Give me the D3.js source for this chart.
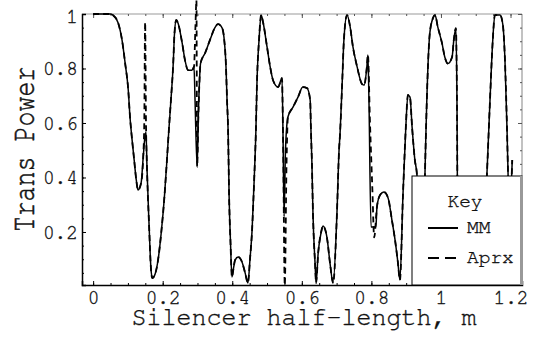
<!DOCTYPE html>
<html>
<head>
<meta charset="utf-8">
<script src="https://cdn.jsdelivr.net/npm/d3@7"></script>
<style>
  body { margin: 0; background: #fff; }
</style>
</head>
<body>
<div id="chart"></div>
<script>
// MM (mode matching) transmitted power vs silencer half-length
var mmX = [0.000, 0.049, 0.057, 0.072, 0.083, 0.092, 0.101, 0.106, 0.112, 0.118, 0.124, 0.129, 0.138, 0.144, 0.149, 0.152,
  0.155, 0.161, 0.166, 0.170, 0.178, 0.187, 0.196, 0.205, 0.212, 0.218, 0.224, 0.230, 0.234, 0.239, 0.244, 0.256, 0.264,
  0.273, 0.284, 0.290, 0.293, 0.299, 0.303, 0.309, 0.322, 0.336, 0.351, 0.359, 0.371, 0.376, 0.382, 0.385, 0.388, 0.391,
  0.395, 0.399, 0.404, 0.408, 0.417, 0.428, 0.437, 0.445, 0.451, 0.457, 0.463, 0.468, 0.471, 0.477, 0.483, 0.489, 0.500,
  0.509, 0.517, 0.532, 0.543, 0.546, 0.549, 0.553, 0.560, 0.575, 0.589, 0.603, 0.615, 0.624, 0.626, 0.629, 0.632, 0.638,
  0.641, 0.647, 0.655, 0.661, 0.672, 0.681, 0.690, 0.701, 0.707, 0.710, 0.716, 0.721, 0.730, 0.739, 0.747, 0.759, 0.773,
  0.779, 0.787, 0.790, 0.793, 0.799, 0.813, 0.816, 0.825, 0.836, 0.848, 0.859, 0.868, 0.876, 0.882, 0.891, 0.899, 0.905,
  0.911, 0.917, 0.925, 0.931, 0.940, 0.945, 0.950, 0.954, 0.968, 0.977, 0.983, 0.991, 1.003, 1.011, 1.020, 1.032, 1.037,
  1.043, 1.046, 1.049, 1.060, 1.090, 1.115, 1.132, 1.141, 1.149, 1.155, 1.170, 1.178, 1.184, 1.190, 1.193, 1.198, 1.205];
var mmY = [1.000, 1.000, 0.996, 0.967, 0.905, 0.820, 0.721, 0.622, 0.538, 0.464, 0.391, 0.354, 0.380, 0.475, 0.549, 0.567,
  0.428, 0.220, 0.070, 0.031, 0.045, 0.100, 0.200, 0.330, 0.460, 0.580, 0.690, 0.810, 0.930, 0.978, 0.967, 0.893, 0.831,
  0.794, 0.794, 0.806, 0.684, 0.440, 0.650, 0.820, 0.857, 0.905, 0.952, 0.963, 0.948, 0.916, 0.806, 0.684, 0.574, 0.328,
  0.160, 0.035, 0.070, 0.097, 0.108, 0.090, 0.050, 0.013, 0.100, 0.207, 0.391, 0.574, 0.746, 0.905, 0.996, 0.967, 0.879,
  0.806, 0.758, 0.732, 0.765, 0.550, 0.256, 0.500, 0.622, 0.659, 0.695, 0.732, 0.728, 0.684, 0.585, 0.453, 0.270, 0.086,
  0.013, 0.123, 0.196, 0.222, 0.182, 0.086, 0.013, 0.270, 0.500, 0.563, 0.746, 0.905, 0.996, 0.952, 0.879, 0.806, 0.743,
  0.739, 0.806, 0.850, 0.684, 0.218, 0.218, 0.292, 0.336, 0.347, 0.325, 0.244, 0.171, 0.090, 0.024, 0.343, 0.585, 0.703,
  0.695, 0.585, 0.464, 0.409, 0.100, 0.010, 0.150, 0.409, 0.930, 0.985, 0.996, 0.952, 0.893, 0.842, 0.818, 0.842, 0.905,
  0.948, 0.684, 0.005, 0.050, 0.250, 0.030, 0.407, 0.684, 0.905, 0.996, 0.996, 0.960, 0.831, 0.574, 0.409, 0.300, 0.464];

// Aprx follows MM except in these spans
var aprxSegX = [
  [0.144, 0.147, 0.1495, 0.152, 0.155],
  [0.290, 0.294, 0.297, 0.299, 0.303, 0.309],
  [0.543, 0.546, 0.551, 0.556, 0.560],
  [0.790, 0.796, 0.803, 0.808, 0.816]
];
var aprxSegY = [
  [0.475, 0.600, 0.970, 0.600, 0.428],
  [0.806, 0.950, 1.050, 0.440, 0.650, 0.820],
  [0.765, 0.550, 0.005, 0.450, 0.622],
  [0.850, 0.600, 0.350, 0.180, 0.292]
];

var xTicks = [0, 0.2, 0.4, 0.6, 0.8, 1, 1.2];
var xTickLabels = ["0", "0.2", "0.4", "0.6", "0.8", "1", "1.2"];
var yTicks = [0.2, 0.4, 0.6, 0.8, 1];
var yTickLabels = ["0.2", "0.4", "0.6", "0.8", "1"];
var seriesNames = ["MM", "Aprx"];

var FONT = "FreeMono, 'Liberation Mono', monospace";
var width = 537, height = 339;
var plot = { left: 82, right: 522, top: 14, bottom: 285 };

var svg = d3.select("#chart").append("svg")
  .attr("width", width)
  .attr("height", height);

var x = d3.scaleLinear().domain([-0.032, 1.233]).range([plot.left, plot.right]);
var y = d3.scaleLinear().domain([0.0055, 1]).range([plot.bottom, plot.top]);

var mm = mmX.map(function (d, i) { return [d, mmY[i]]; });
var aprx = mm.filter(function (p) {
  return !aprxSegX.some(function (s) { return p[0] >= s[0] && p[0] <= s[s.length - 1]; });
});
aprxSegX.forEach(function (s, j) {
  s.forEach(function (d, i) { aprx.push([d, aprxSegY[j][i]]); });
});
aprx.sort(function (a, b) { return a[0] - b[0]; });

var line = d3.line()
  .x(function (d) { return x(d[0]); })
  .y(function (d) { return y(d[1]); })
  .curve(d3.curveMonotoneX);

// minor ticks every 0.05
var xMinor = d3.range(0, 25).map(function (i) { return i * 0.05; });
var yMinor = d3.range(1, 20).map(function (i) { return i * 0.05; });

function tickGroup(axis, scale, pos, ticks, size, color) {
  var g = svg.append("g").attr("transform", pos);
  g.call(axis(scale).tickValues(ticks).tickSize(size).tickFormat(""));
  g.select(".domain").remove();
  g.selectAll(".tick line").attr("stroke", color).attr("stroke-width", 1);
  return g;
}

function styleText(sel, size) {
  return sel.style("font-family", FONT).style("font-size", size + "px")
    .attr("fill", "#111").attr("stroke", "#111").attr("stroke-width", 0.35);
}

// top & right frame (gray)
svg.append("line").attr("x1", plot.left).attr("x2", plot.right).attr("y1", plot.top).attr("y2", plot.top)
  .attr("stroke", "#999").attr("stroke-width", 1.2);
svg.append("line").attr("x1", plot.right).attr("x2", plot.right).attr("y1", plot.top).attr("y2", plot.bottom)
  .attr("stroke", "#999").attr("stroke-width", 1.2);
tickGroup(d3.axisTop, x, "translate(0," + plot.top + ")", xMinor, -2, "#555");
tickGroup(d3.axisTop, x, "translate(0," + plot.top + ")", xTicks, -4, "#555");
tickGroup(d3.axisRight, y, "translate(" + plot.right + ",0)", yMinor, -2, "#555");
tickGroup(d3.axisRight, y, "translate(" + plot.right + ",0)", yTicks, -4, "#555");

// curves
svg.append("path").datum(aprx)
  .attr("fill", "none").attr("stroke", "#000").attr("stroke-width", 1.8)
  .attr("stroke-dasharray", "6,4")
  .attr("d", line);
svg.append("path").datum(mm)
  .attr("fill", "none").attr("stroke", "#000").attr("stroke-width", 1.5)
  .attr("d", line);

// bottom axis
tickGroup(d3.axisBottom, x, "translate(0," + plot.bottom + ")", xMinor, -2, "#000");
var xAxis = svg.append("g").attr("transform", "translate(0," + plot.bottom + ")")
  .call(d3.axisBottom(x).tickValues(xTicks).tickSize(-4)
    .tickFormat(function (d, i) { return xTickLabels[i]; }));
xAxis.select(".domain").attr("stroke", "#000").attr("stroke-width", 1.5);
styleText(xAxis.selectAll(".tick text").attr("y", 19).attr("dy", 0), 19.5);

// left axis
tickGroup(d3.axisLeft, y, "translate(" + plot.left + ",0)", yMinor, -2, "#000");
var yAxis = svg.append("g").attr("transform", "translate(" + plot.left + ",0)")
  .call(d3.axisLeft(y).tickValues(yTicks).tickSize(-4)
    .tickFormat(function (d, i) { return yTickLabels[i]; }));
yAxis.select(".domain").attr("stroke", "#000").attr("stroke-width", 1.5);
styleText(yAxis.selectAll(".tick text").attr("x", -4).attr("dy", "0.32em"), 19.5);
yAxis.selectAll(".tick text").filter(function (d) { return d === 1; }).attr("dy", "0.45em");

// axis titles
styleText(svg.append("text")
  .attr("x", 304).attr("y", 325)
  .attr("text-anchor", "middle"), 25)
  .text("Silencer half-length, m");
styleText(svg.append("text")
  .attr("transform", "translate(34,149) rotate(-90) scale(1,1.35)")
  .attr("text-anchor", "middle"), 25)
  .text("Trans Power");

// legend
var lg = svg.append("g");
lg.append("rect").attr("x", 412).attr("y", 176).attr("width", 110).attr("height", 109)
  .attr("fill", "#fff").attr("stroke", "#000").attr("stroke-width", 1);
lg.append("rect").attr("x", 520).attr("y", 176).attr("width", 3).attr("height", 109).attr("fill", "#999");
styleText(lg.append("text").attr("x", 465).attr("y", 207).attr("text-anchor", "middle"), 19.5).text("Key");
seriesNames.forEach(function (name, i) {
  var yy = 228 + i * 30;
  lg.append("line").attr("x1", 428).attr("x2", 458).attr("y1", yy).attr("y2", yy)
    .attr("stroke", "#000").attr("stroke-width", 2)
    .attr("stroke-dasharray", i === 1 ? "11,6" : null);
  styleText(lg.append("text").attr("x", 467).attr("y", yy + 5), 19.5).text(name);
});
</script>
</body>
</html>
